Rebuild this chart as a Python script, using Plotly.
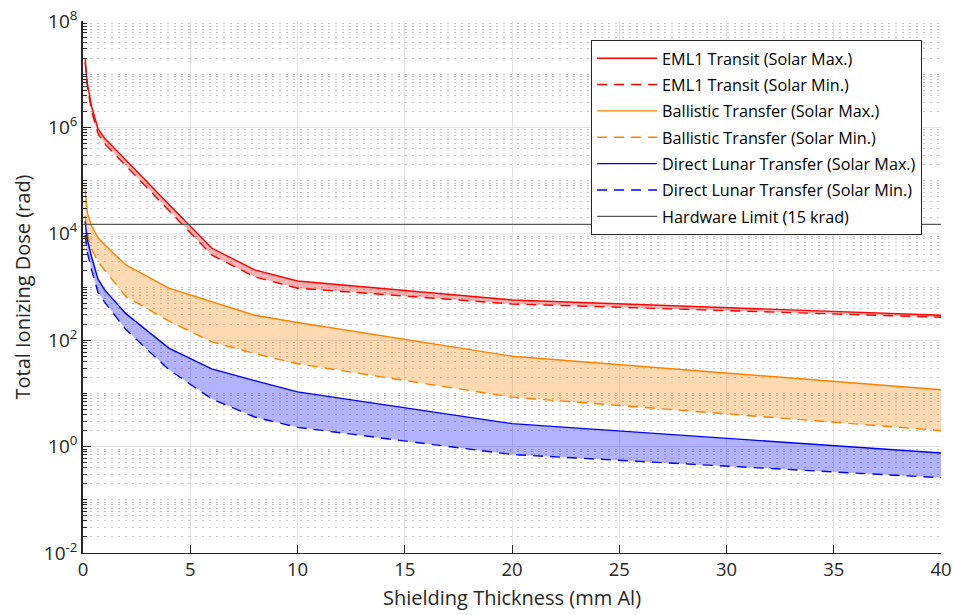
import plotly.graph_objects as go

# Shielding depth (mm Al)
thickness = [0.1, 0.2, 0.4, 0.7, 1, 2, 4, 6, 8, 10, 20, 40]

# Total ionizing dose (rad) for each mission profile
eml1_max = [1.9e7, 6.9e6, 2.5e6, 9.5e5, 6.3e5, 2.4e5, 3.6e4, 5.4e3, 2.1e3, 1.3e3, 570, 295]
eml1_min = [1.66e7, 5.8e6, 2.0e6, 7.6e5, 5.0e5, 1.9e5, 2.8e4, 4.0e3, 1.55e3, 950, 480, 270]
ballistic_max = [6.8e4, 2.5e4, 1.4e4, 8.5e3, 6.3e3, 2.6e3, 950, 525, 295, 215, 50, 11.7]
ballistic_min = [2.2e4, 1.0e4, 5.2e3, 3.0e3, 2.1e3, 660, 230, 93, 56, 36, 8.5, 2.0]
direct_max = [1.7e4, 7.9e3, 3.7e3, 1.4e3, 890, 316, 71, 29, 17.4, 10.7, 2.7, 0.76]
direct_min = [9.5e3, 4.5e3, 2.1e3, 790, 525, 158, 28, 7.9, 3.6, 2.3, 0.71, 0.26]

hardware_limit = 15000  # rad

x_ticks = [0, 5, 10, 15, 20, 25, 30, 35, 40]
y_ticks = [1e-2, 1e0, 1e2, 1e4, 1e6, 1e8]
y_labels = ["10<sup>-2</sup>", "10<sup>0</sup>", "10<sup>2</sup>", "10<sup>4</sup>",
            "10<sup>6</sup>", "10<sup>8</sup>"]

FONT = "Open Sans"
DASH = "10px,7px"

bands = [
    ("EML1 Transit", eml1_max, eml1_min, "#ff0000", "rgba(255,0,0,0.3)"),
    ("Ballistic Transfer", ballistic_max, ballistic_min, "#ff8000", "rgba(255,128,0,0.3)"),
    ("Direct Lunar Transfer", direct_max, direct_min, "#0000ff", "rgba(0,0,255,0.3)"),
]

fig = go.Figure()

# shaded ranges between solar max and solar min
for name, hi, lo, color, fill in bands:
    fig.add_trace(go.Scatter(
        x=thickness + thickness[::-1], y=hi + lo[::-1],
        fill="toself", fillcolor=fill, mode="lines",
        line=dict(width=0), hoverinfo="skip", showlegend=False))

# solar max / solar min curves
for i, (name, hi, lo, color, fill) in enumerate(bands):
    fig.add_trace(go.Scatter(
        x=thickness, y=hi, mode="lines", name=f"{name} (Solar Max.)",
        legendgroup=f"g{2*i}", line=dict(color=color, width=1.4)))
    fig.add_trace(go.Scatter(
        x=thickness, y=lo, mode="lines", name=f"{name} (Solar Min.)",
        legendgroup=f"g{2*i+1}", line=dict(color=color, width=1.4, dash=DASH)))

fig.add_trace(go.Scatter(
    x=[x_ticks[0], x_ticks[-1]], y=[hardware_limit, hardware_limit], mode="lines",
    name="Hardware Limit (15 krad)", legendgroup="g6",
    line=dict(color="#5a5a5a", width=1.2)))

minor_vals = [k * 10 ** e for e in range(-2, 8) for k in range(2, 10)]
minor_vals += [10 ** e for e in (-1, 1, 3, 5, 7)]

fig.update_layout(
    width=953, height=615,
    margin=dict(l=83, r=12, t=21, b=62, autoexpand=False),
    paper_bgcolor="white", plot_bgcolor="white",
    font=dict(family=FONT, size=18, color="#262626"),
    showlegend=True,
    legend=dict(
        x=0.978, y=0.964, xanchor="right", yanchor="top",
        bgcolor="white", bordercolor="#262626", borderwidth=1,
        font=dict(family=FONT, size=16.2, color="#000000"),
        tracegroupgap=2.3, itemwidth=60,
    ),
    xaxis=dict(
        range=[0, 40], tickvals=x_ticks, ticks="inside", ticklen=8,
        tickcolor="#262626", showline=True, linecolor="#262626", linewidth=1.2,
        showgrid=True, gridcolor="#e3e3e3", gridwidth=1, zeroline=False,
        automargin=False,
        title=dict(text="Shielding Thickness (mm Al)", font=dict(size=20), standoff=10),
        tickfont=dict(size=18.5),
    ),
    yaxis=dict(
        type="log", range=[-2, 8], tickvals=y_ticks, ticktext=y_labels,
        ticks="inside", ticklen=8, tickcolor="#262626",
        showline=True, linecolor="#262626", linewidth=1.5,
        showgrid=True, gridcolor="#e3e3e3", gridwidth=1, zeroline=False,
        automargin=False,
        minor=dict(tickvals=minor_vals, ticks="inside", ticklen=4,
                   tickcolor="#262626", showgrid=True, gridcolor="#c4c4c4",
                   griddash="2px,5px", gridwidth=1),
        title=dict(text="Total Ionizing Dose (rad)", font=dict(size=20), standoff=8),
        tickfont=dict(size=19),
    ),
)

fig.write_html("out.html")
